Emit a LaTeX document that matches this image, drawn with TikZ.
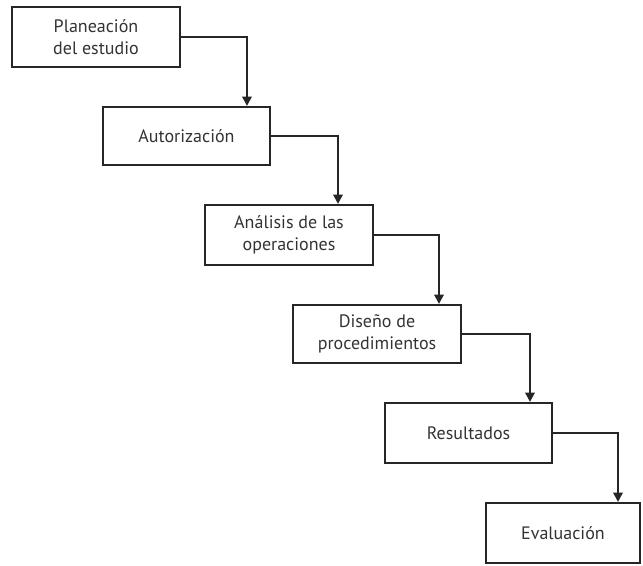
\documentclass[tikz,border=0pt]{standalone}
\usepackage{fontspec}
\setmainfont{PT Sans}
\usetikzlibrary{arrows.meta}
\begin{document}
\begin{tikzpicture}[x=0.75pt,y=-0.75pt,
  box/.style={draw=black!85,line width=1.6pt,rectangle,align=center,
    font=\fontsize{13.5}{16.5}\selectfont,text=black!80,inner sep=0pt},
  arr/.style={draw=black!85,line width=1.6pt,-{Triangle[length=7pt,width=7pt]}}]
\useasboundingbox (0,0) rectangle (643,565);
\node[box,minimum width=168*0.75pt,minimum height=60*0.75pt] (b1) at (96,37) {Planeación\\del estudio};
\node[box,minimum width=167*0.75pt,minimum height=58*0.75pt] (b2) at (186.5,136) {Autorización};
\node[box,minimum width=168*0.75pt,minimum height=60*0.75pt] (b3) at (289,235) {Análisis de las\\operaciones};
\node[box,minimum width=168*0.75pt,minimum height=58*0.75pt] (b4) at (377,334) {Diseño de\\procedimientos};
\node[box,minimum width=167*0.75pt,minimum height=60*0.75pt] (b5) at (468.5,433) {Resultados};
\node[box,minimum width=154*0.75pt,minimum height=60*0.75pt] (b6) at (563,533) {Evaluación};
\coordinate (k1) at (247,0);
\coordinate (k2) at (338,0);
\coordinate (k3) at (439,0);
\coordinate (k4) at (530,0);
\coordinate (k5) at (618,0);
\draw[arr] (b1.east) -| (b2.north -| k1);
\draw[arr] (b2.east) -| (b3.north -| k2);
\draw[arr] (b3.east) -| (b4.north -| k3);
\draw[arr] (b4.east) -| (b5.north -| k4);
\draw[arr] (b5.east) -| (b6.north -| k5);
\end{tikzpicture}
\end{document}
